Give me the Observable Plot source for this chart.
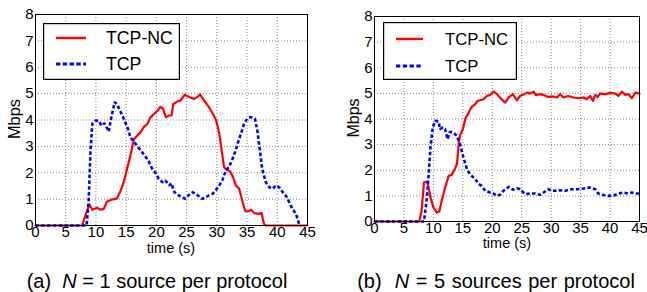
<!DOCTYPE html>
<html><head><meta charset="utf-8">
<script src="https://cdn.jsdelivr.net/npm/d3@7"></script>
<script src="https://cdn.jsdelivr.net/npm/@observablehq/plot@0.6"></script>
<style>
body{margin:0;background:#fff;width:647px;height:292px;position:relative;overflow:hidden;font-family:"Liberation Sans",Arial,sans-serif;color:#000;}
.chart{position:absolute;top:0}
.txt{position:absolute;white-space:nowrap;line-height:1;}
.ylab{transform:translate(-50%,-50%) rotate(-90deg);}
.cap{transform:translate(-50%,-50%);}
.leg{position:absolute;}
.leg text{font-family:"Liberation Sans",Arial,sans-serif;}
</style></head>
<body>
<div id="a" class="chart" style="left:0"></div>
<div id="b" class="chart" style="left:330px"></div>
<script>
// ---------- data: panel (a) N = 1 ----------
const tA_nc = [0,7.7,8.9,9.4,10.2,10.8,11.3,11.8,12.4,13,13.5,14.1,14.6,15.2,15.7,16.3,16.8,17.4,17.9,18.5,19,19.6,20.2,20.7,21.1,21.6,22.1,22.5,22.8,23.5,24,24.7,25.4,26.2,26.8,27.2,27.9,28.7,29.5,29.9,30.4,30.8,31.2,31.6,32.2,32.7,33.1,33.7,34.2,34.7,35.2,35.7,36.2,37,37.4,37.8,38.1,45];
const vA_nc = [0,0,0.8,0.6,0.67,0.6,0.63,0.9,0.97,1.0,1.03,1.33,1.64,2.2,2.65,3.28,3.4,3.54,3.73,3.85,4.1,4.23,4.36,4.5,4.42,4.1,4.17,4.17,4.6,4.7,4.74,4.96,4.87,4.8,4.87,4.97,4.74,4.49,4.17,3.98,3.48,2.84,2.21,2.11,2.06,1.83,1.54,1.39,0.95,0.54,0.54,0.6,0.47,0.44,0.47,0.06,0,0];
const tA_tcp = [0,8.45,8.8,9.1,9.4,9.9,10.5,10.9,11.4,11.9,12.1,12.5,13.1,13.5,14.1,14.6,15.2,15.7,16.3,16.8,17.4,18.1,18.8,19.3,19.9,20.4,21,21.5,22.1,22.5,22.9,23.5,24.3,24.8,25.4,26,26.5,27.1,27.6,28.2,28.7,29.3,29.8,30.4,30.9,31.5,32,32.6,33.1,33.6,34,34.5,35.1,35.6,36.3,36.7,37.2,37.5,38.1,38.7,39.2,39.8,40.3,40.9,41.4,42,42.5,43.1,43.6,43.9];
const vA_tcp = [0,0,0.95,2.84,3.86,3.98,3.96,3.79,3.88,3.67,3.56,4.05,4.68,4.59,4.3,4.05,3.73,3.35,3.16,3.03,2.84,2.65,2.4,2.15,1.98,1.77,1.64,1.71,1.52,1.6,1.29,1.16,1.07,1.01,1.16,1.26,1.2,1.1,1.01,1.07,1.14,1.2,1.33,1.52,1.71,2.09,2.21,2.53,2.84,3.22,3.48,3.86,4.07,4.11,4.05,3.6,2.72,2.15,1.64,1.45,1.39,1.52,1.45,1.26,1.14,0.88,0.63,0.44,0.06,0];

// ---------- data: panel (b) N = 5 ----------
const tB_nc = [0,7.6,8.0,8.4,8.9,9.2,9.5,10,10.6,11,11.4,12,12.6,13.1,13.5,14,14.3,14.5,15,15.4,16,16.5,17.1,17.5,17.9,18.5,19.1,19.6,20.2,20.8,21.3,22.2,22.8,23.5,24.2,24.7,25.4,25.9,26.4,27,27.4,28.1,28.8,29.5,30.3,31,31.5,32.1,32.9,33.8,34.6,35.5,36,36.6,37.1,37.5,37.9,38.3,39.2,40,40.9,41.4,42,42.6,43.1,43.7,44.3,45];
const vB_nc = [0,0,0.42,1.52,1.56,1.33,0.94,0.55,0.35,0.39,0.81,1.33,1.78,1.82,1.98,2.24,3.02,3.34,3.6,3.99,4.25,4.47,4.58,4.71,4.73,4.77,4.9,4.93,5.07,4.97,4.84,4.64,4.84,4.97,4.73,4.9,4.97,5.03,4.99,5.07,4.93,4.97,4.93,4.86,4.88,4.84,4.97,4.84,4.9,4.84,4.81,4.84,4.77,4.9,4.71,4.94,4.86,4.99,4.97,5.02,4.99,4.9,5.07,4.94,4.97,4.81,5.03,4.99];
const tB_tcp = [0,8.4,8.9,9.2,9.5,9.9,10.3,10.9,11.1,11.6,12,12.4,12.8,13.4,14,14.5,15.1,15.7,16.2,17.1,17.7,18.2,18.8,19.6,20.2,20.8,21.3,21.9,22.8,23.5,24.2,24.7,25.6,26.4,27.3,28.1,28.7,29.5,30.1,30.7,31.5,32.4,33.2,34.4,35.5,36.6,37.5,38,38.9,40,40.9,41.4,42.3,43.1,43.7,44.3,45];
const vB_tcp = [0,0,0.94,1.85,2.89,3.67,3.93,3.9,3.6,3.67,3.6,3.21,3.5,3.47,3.34,3.02,2.5,2.04,1.85,1.65,1.46,1.39,1.2,1.13,1.09,1.0,1.04,1.2,1.35,1.24,1.3,1.26,1.07,1.09,1.09,1.04,1.13,1.26,1.2,1.2,1.22,1.2,1.26,1.26,1.29,1.33,1.26,1.09,1.03,1.0,1.03,1.09,1.13,1.09,1.13,1.09,1.09];

const seriesNames = ["TCP-NC", "TCP"];
const xTicks = [0,5,10,15,20,25,30,35,40,45];
const yTicks = [0,1,2,3,4,5,6,7,8];
const captions = ["(a)&nbsp; <i>N</i> = 1 source per protocol", "(b)&nbsp; <i>N</i> = 5 sources per protocol"];

const font = "'Liberation Sans', Arial, sans-serif";
const toRows = (t, v) => t.map((x, i) => ({t: x, v: v[i]}));

function panel(ncRows, tcpRows, opt) {
  return Plot.plot({
    width: opt.width, height: 255,
    marginLeft: opt.ml, marginRight: opt.mr, marginTop: opt.mt, marginBottom: opt.mb,
    style: {fontFamily: font, fontSize: "15px", color: "#000", background: "transparent"},
    x: {domain: [0, 45], ticks: xTicks, tickSize: 0, tickPadding: 1, label: null},
    y: {domain: [0, 8], ticks: yTicks, tickSize: 0, tickPadding: 2, label: null},
    marks: [
      Plot.gridX(xTicks, {stroke: "#555", strokeOpacity: 0.9, strokeDasharray: "1,2", strokeWidth: 0.8}),
      Plot.gridY(yTicks, {stroke: "#555", strokeOpacity: 0.9, strokeDasharray: "1,2", strokeWidth: 0.8}),
      Plot.line(ncRows, {x: "t", y: "v", stroke: "#ff0000", strokeWidth: 2.2}),
      Plot.line(tcpRows, {x: "t", y: "v", stroke: "#0000ff", strokeWidth: 2.6, strokeDasharray: "3.5,2.3", strokeLinecap: "butt", strokeLinejoin: "miter"}),
      Plot.frame({stroke: "#000", strokeWidth: 1})
    ]
  });
}

document.getElementById("a").appendChild(panel(toRows(tA_nc, vA_nc), toRows(tA_tcp, vA_tcp), {width: 320, ml: 35, mr: 13, mt: 14, mb: 30}));
document.getElementById("b").appendChild(panel(toRows(tB_nc, vB_nc), toRows(tB_tcp, vB_tcp), {width: 317, ml: 44, mr: 8, mt: 16, mb: 34}));

function addText(html, cls, x, y, size, extra) {
  const d = document.createElement("div");
  d.className = "txt " + cls;
  d.style.left = x + "px"; d.style.top = y + "px";
  if (size) d.style.fontSize = size + "px";
  if (extra) Object.assign(d.style, extra);
  d.innerHTML = html;
  document.body.appendChild(d);
}
// axis labels
addText("Mbps", "ylab", 14, 119, 16.4);
addText("Mbps", "ylab", 354, 118, 16);
addText("time (s)", "cap", 171, 248, 14.5);
addText("time (s)", "cap", 507, 243, 14.5);
// captions
addText(captions[0], "cap", 157, 281, 20);
addText(captions[1], "cap", 496, 281, 20, {wordSpacing: "1px"});

// legends
function legend(x, y, w, h, s) {
  const ns = "http://www.w3.org/2000/svg";
  const svg = document.createElementNS(ns, "svg");
  svg.setAttribute("width", w); svg.setAttribute("height", h);
  svg.setAttribute("class", "leg");
  svg.style.left = x + "px"; svg.style.top = y + "px";
  const el = (tag, attrs, txt) => { const e = document.createElementNS(ns, tag); for (const k in attrs) e.setAttribute(k, attrs[k]); if (txt) e.textContent = txt; svg.appendChild(e); return e; };
  el("rect", {x: 0.6, y: 0.6, width: w - 1.2, height: h - 1.2, fill: "#fff", stroke: "#000", "stroke-width": 1.2});
  el("line", {x1: s.lx0, x2: s.lx1, y1: s.y1, y2: s.y1, stroke: "#ff0000", "stroke-width": 2.4});
  el("line", {x1: s.lx0, x2: s.lx1, y1: s.y2, y2: s.y2, stroke: "#0000ff", "stroke-width": 2.8, "stroke-dasharray": "4.3,2.5"});
  el("text", {x: s.tx, y: s.y1, dy: "0.36em", "font-size": s.fs}, seriesNames[0]);
  el("text", {x: s.tx, y: s.y2, dy: "0.36em", "font-size": s.fs}, seriesNames[1]);
  document.body.appendChild(svg);
}
legend(43, 23, 137, 57, {lx0: 13, lx1: 43, tx: 63, y1: 15, y2: 41, fs: 17.7});
legend(383, 22, 134, 58, {lx0: 13, lx1: 40, tx: 62, y1: 17, y2: 44, fs: 16.7});
</script>
</body></html>
